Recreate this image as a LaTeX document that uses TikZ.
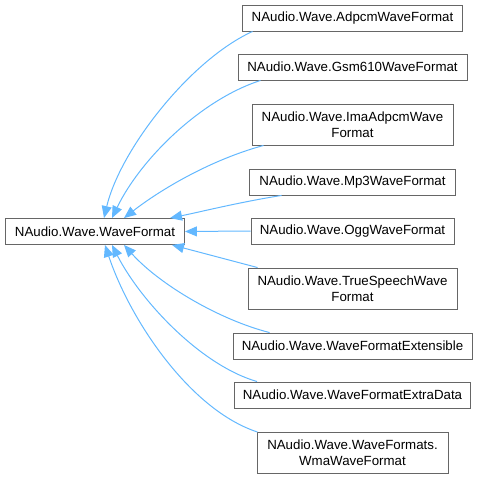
\documentclass[tikz,border=0pt]{standalone}
\usepackage{fontspec}
\setmainfont{Liberation Sans}
\usetikzlibrary{arrows.meta}

\definecolor{edgeblue}{HTML}{63B8FF}
\definecolor{boxgray}{HTML}{666666}

\begin{document}
\begin{tikzpicture}[x=1pt, y=-1pt]
	% parameters
	\def\H{26pt}  % one-line box height
	\def\HH{41pt} % two-line box height
	\def\X{352.5} % column of derived classes

	\tikzset{
		cls/.style={draw=boxgray, fill=white, line width=0.9pt, inner sep=0pt,
			align=center, minimum height=\H, font=\fontsize{13.3}{16}\selectfont},
		edge/.style={draw=edgeblue, line width=1pt,
			-{Triangle[length=12pt, width=10pt, fill=edgeblue]}}
	}

	\useasboundingbox (0,0) rectangle (478,479);

	% base class
	\node[cls, minimum width=179pt] (base) at (95,231.5) {NAudio.Wave.WaveFormat};

	% derived classes
	\node[cls, minimum width=220pt] (adpcm) at (\X,18) {NAudio.Wave.AdpcmWaveFormat};
	\node[cls, minimum width=229pt] (gsm) at (\X,67) {NAudio.Wave.Gsm610WaveFormat};
	\node[cls, minimum width=201pt, minimum height=\HH] (ima) at (\X,124.5) {NAudio.Wave.ImaAdpcmWave\\Format};
	\node[cls, minimum width=206pt] (mp3) at (\X,182) {NAudio.Wave.Mp3WaveFormat};
	\node[cls, minimum width=203pt] (ogg) at (\X,231) {NAudio.Wave.OggWaveFormat};
	\node[cls, minimum width=209pt, minimum height=\HH] (truesp) at (\X,288.5) {NAudio.Wave.TrueSpeechWave\\Format};
	\node[cls, minimum width=239pt] (ext) at (\X,346) {NAudio.Wave.WaveFormatExtensible};
	\node[cls, minimum width=236pt] (extra) at (\X,395) {NAudio.Wave.WaveFormatExtraData};
	\node[cls, minimum width=191pt, minimum height=\HH] (wma) at (\X,453) {NAudio.Wave.WaveFormats.\\WmaWaveFormat};

	% inheritance edges, upper half
	\draw[edge] ([xshift=10.5pt]adpcm.south west) .. controls (190,60) and (120,150) .. ([xshift=9pt]base.north);
	\draw[edge] ([xshift=23pt]gsm.south west) .. controls (200,100) and (140,160) .. ([xshift=17pt]base.north);
	\draw[edge] ([xshift=12pt]ima.south west) .. controls (210,160) and (160,190) .. ([xshift=29pt]base.north);
	\draw[edge] ([xshift=32.5pt]mp3.south west) .. controls (240,202) and (200,212) .. ([xshift=75pt]base.north);

	% straight one
	\draw[edge] (ogg.west) -- (base.east);

	% lower half
	\draw[edge] ([xshift=10pt]truesp.north west) -- ([xshift=77pt]base.south);
	\draw[edge] ([xshift=37pt]ext.north west) .. controls (220,320) and (160,285) .. ([xshift=29pt]base.south);
	\draw[edge] ([xshift=23pt]extra.north west) .. controls (200,365) and (140,300) .. ([xshift=17pt]base.south);
	\draw[edge] ([xshift=1pt]wma.north west) .. controls (190,410) and (130,320) .. ([xshift=10pt]base.south);
\end{tikzpicture}
\end{document}
